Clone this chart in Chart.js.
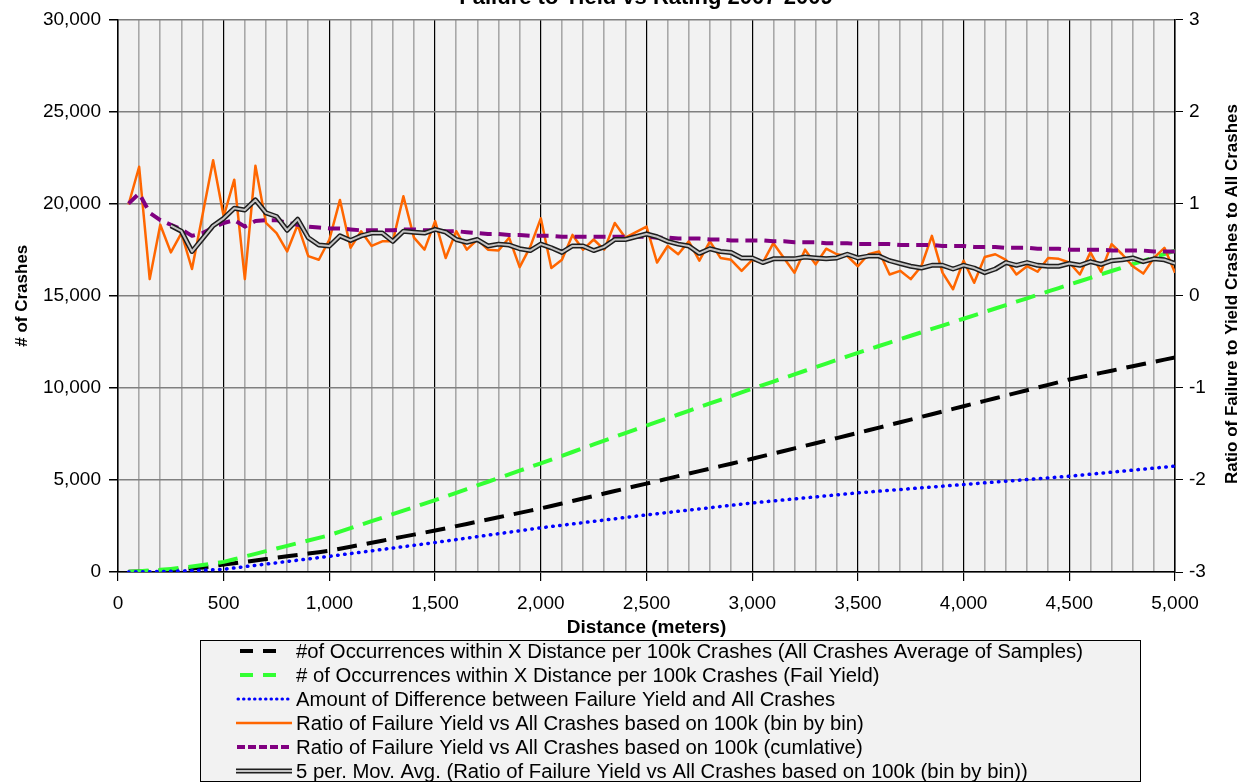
<!DOCTYPE html>
<html><head><meta charset="utf-8">
<script src="https://cdn.jsdelivr.net/npm/chart.js@4.4.0/dist/chart.umd.min.js"></script>
<style>html,body{margin:0;padding:0;background:#fff;overflow:hidden}#wrap{width:1247px;height:784px;position:relative}</style>
</head><body><div id="wrap"><canvas id="c" width="1247" height="784"></canvas></div>
<script>
const chartTitle = 'Failure to Yield vs Rating 2007-2009';
const xTitle = 'Distance (meters)';
const yLeftTitle = '# of Crashes';
const yRightTitle = 'Ratio of Failure to Yield Crashes to All Crashes';
const seriesNames = [
  '#of Occurrences within X Distance per 100k Crashes (All Crashes Average of Samples)',
  '# of Occurrences within X Distance per 100k Crashes (Fail Yield)',
  'Amount of Difference between Failure Yield and All Crashes',
  'Ratio of Failure Yield vs All Crashes based on 100k (bin by bin)',
  'Ratio of Failure Yield vs All Crashes based on 100k (cumlative)',
  '5 per. Mov. Avg. (Ratio of Failure Yield vs All Crashes based on 100k (bin by bin))'
];
const distances = [50,100,150,200,250,300,350,400,450,500,550,600,650,700,750,800,850,900,950,1000,
1050,1100,1150,1200,1250,1300,1350,1400,1450,1500,1550,1600,1650,1700,1750,1800,1850,1900,1950,2000,
2050,2100,2150,2200,2250,2300,2350,2400,2450,2500,2550,2600,2650,2700,2750,2800,2850,2900,2950,3000,
3050,3100,3150,3200,3250,3300,3350,3400,3450,3500,3550,3600,3650,3700,3750,3800,3850,3900,3950,4000,
4050,4100,4150,4200,4250,4300,4350,4400,4450,4500,4550,4600,4650,4700,4750,4800,4850,4900,4950,5000];
const xGridValues = [0,100,200,300,400,500,600,700,800,900,1000,1100,1200,1300,1400,1500,1600,1700,1800,1900,2000,
2100,2200,2300,2400,2500,2600,2700,2800,2900,3000,3100,3200,3300,3400,3500,3600,3700,3800,3900,4000,
4100,4200,4300,4400,4500,4600,4700,4800,4900,5000];
const xLabelValues = [0,500,1000,1500,2000,2500,3000,3500,4000,4500,5000];
const leftTicks = [0,5000,10000,15000,20000,25000,30000];
const rightTicks = [-3,-2,-1,0,1,2,3];

const allCrashesAvg = [10,25,45,70,100,140,190,250,320,400,
475,550,625,700,775,850,925,1000,1075,1150,
1260,1370,1480,1590,1700,1810,1920,2030,2140,2250,
2370,2490,2610,2730,2850,2970,3090,3210,3330,3450,
3585,3720,3855,3990,4125,4260,4395,4530,4665,4800,
4935,5070,5205,5340,5475,5610,5745,5880,6015,6150,
6290,6430,6570,6710,6850,6990,7130,7270,7410,7550,
7695,7840,7985,8130,8275,8420,8565,8710,8855,9000,
9145,9290,9435,9580,9725,9870,10015,10160,10305,10450,
10570,10690,10810,10930,11050,11170,11290,11410,11530,11650];
const failYield = [20,45,80,120,170,230,300,380,465,550,
695,840,985,1130,1275,1420,1565,1710,1855,2000,
2190,2380,2570,2760,2950,3140,3330,3520,3710,3900,
4100,4300,4500,4700,4900,5100,5300,5500,5700,5900,
6105,6310,6515,6720,6925,7130,7335,7540,7745,7950,
8150,8350,8550,8750,8950,9150,9350,9550,9750,9950,
10145,10340,10535,10730,10925,11120,11315,11510,11705,11900,
12085,12270,12455,12640,12825,13010,13195,13380,13565,13750,
13935,14120,14305,14490,14675,14860,15045,15230,15415,15600,
15785,15970,16155,16340,16525,16710,16895,17080,17265,17450];
const difference = [5,10,15,25,40,55,75,95,120,150,
220,290,360,430,500,570,640,710,780,850,
925,1000,1075,1150,1225,1300,1375,1450,1525,1600,
1680,1760,1840,1920,2000,2080,2160,2240,2320,2400,
2470,2540,2610,2680,2750,2820,2890,2960,3030,3100,
3165,3230,3295,3360,3425,3490,3555,3620,3685,3750,
3805,3860,3915,3970,4025,4080,4135,4190,4245,4300,
4345,4390,4435,4480,4525,4570,4615,4660,4705,4750,
4795,4840,4885,4930,4975,5020,5065,5110,5155,5200,
5255,5310,5365,5420,5475,5530,5585,5640,5695,5750];
const ratioBinByBin = [0.99,1.40,0.18,0.77,0.47,0.68,0.29,0.88,1.47,0.86,
1.26,0.18,1.41,0.79,0.68,0.48,0.77,0.43,0.39,0.61,
1.04,0.52,0.70,0.54,0.59,0.59,1.08,0.63,0.50,0.81,
0.41,0.70,0.50,0.61,0.50,0.49,0.63,0.31,0.53,0.84,
0.30,0.39,0.66,0.50,0.61,0.50,0.79,0.63,0.69,0.75,
0.36,0.54,0.45,0.59,0.38,0.59,0.41,0.39,0.27,0.39,
0.36,0.57,0.41,0.25,0.50,0.34,0.51,0.45,0.43,0.32,
0.45,0.48,0.23,0.27,0.18,0.32,0.65,0.25,0.07,0.38,
0.14,0.42,0.45,0.39,0.23,0.32,0.26,0.41,0.40,0.36,
0.23,0.47,0.26,0.56,0.45,0.32,0.24,0.41,0.52,0.25];
const ratioCumulative = [1.00,1.11,0.90,0.82,0.77,0.72,0.65,0.68,0.74,0.79,
0.82,0.75,0.81,0.82,0.82,0.79,0.77,0.75,0.74,0.73,
0.73,0.72,0.71,0.71,0.71,0.71,0.72,0.72,0.71,0.71,
0.70,0.70,0.69,0.68,0.67,0.67,0.66,0.66,0.65,0.65,
0.65,0.64,0.64,0.64,0.64,0.64,0.64,0.64,0.64,0.64,
0.63,0.63,0.62,0.62,0.62,0.61,0.61,0.60,0.60,0.60,
0.60,0.59,0.59,0.58,0.58,0.58,0.57,0.57,0.57,0.56,
0.56,0.56,0.56,0.55,0.55,0.55,0.55,0.54,0.54,0.54,
0.53,0.53,0.53,0.52,0.52,0.52,0.51,0.51,0.51,0.50,
0.50,0.50,0.50,0.49,0.49,0.49,0.49,0.48,0.48,0.48];
const movingAvg5 = [null,null,null,null,0.76,0.70,0.48,0.62,0.76,0.84,
0.95,0.93,1.04,0.90,0.86,0.71,0.83,0.63,0.55,0.54,
0.65,0.60,0.65,0.68,0.68,0.59,0.70,0.69,0.68,0.72,
0.69,0.61,0.58,0.61,0.54,0.56,0.55,0.51,0.49,0.56,
0.52,0.47,0.54,0.54,0.49,0.53,0.61,0.61,0.64,0.67,
0.64,0.59,0.56,0.54,0.46,0.51,0.48,0.47,0.41,0.41,
0.36,0.40,0.40,0.40,0.42,0.41,0.40,0.41,0.45,0.41,
0.43,0.43,0.38,0.35,0.32,0.30,0.33,0.33,0.29,0.33,
0.30,0.25,0.29,0.36,0.33,0.36,0.33,0.32,0.32,0.35,
0.33,0.37,0.34,0.38,0.39,0.41,0.37,0.40,0.39,0.35];

const FONT = '"Liberation Sans", Arial, sans-serif';
Chart.defaults.font.family = FONT;
Chart.defaults.color = '#000';

function pts(arr){ return distances.map((d,i)=>({x:d,y:arr[i]})); }

const styles = [
  {color:'#000000', width:4, dash:[20,10], cap:'butt'},
  {color:'#33ff33', width:4, dash:[20,10], cap:'butt'},
  {color:'#0000ff', width:3.5, dash:[0.5,6.5], cap:'round'},
  {color:'#ff6600', width:2.5, dash:[], cap:'butt'},
  {color:'#800080', width:4, dash:[12,7], cap:'butt'},
  {color:'#1e1e1e', width:5, dash:[], cap:'butt', inner:'#c4c4c4', innerWidth:2}
];

const datasets = [
  {label:seriesNames[0], data:pts(allCrashesAvg), yAxisID:'y', order:6},
  {label:seriesNames[1], data:pts(failYield), yAxisID:'y', order:5},
  {label:seriesNames[2], data:pts(difference), yAxisID:'y', order:4},
  {label:seriesNames[3], data:pts(ratioBinByBin), yAxisID:'y2', order:3},
  {label:seriesNames[4], data:pts(ratioCumulative), yAxisID:'y2', order:2},
  {label:seriesNames[5], data:pts(movingAvg5), yAxisID:'y2', order:1},
  {label:'', data:pts(movingAvg5), yAxisID:'y2', order:0}
].map((ds,k)=>{
  const s = styles[Math.min(k,5)];
  const inner = k===6;
  return Object.assign(ds,{
    borderColor: inner ? s.inner : s.color,
    borderWidth: inner ? s.innerWidth : s.width,
    borderDash: s.dash,
    borderCapStyle: s.cap,
    borderJoinStyle: 'round',
    pointRadius:0, pointHoverRadius:0, fill:false, tension:0, spanGaps:false
  });
});

const plotBg = {
  id:'plotBg',
  beforeDraw(chart){
    const {ctx, chartArea:a} = chart;
    ctx.save(); ctx.fillStyle='#f2f2f2'; ctx.fillRect(a.left,a.top,a.right-a.left,a.bottom-a.top); ctx.restore();
  }
};

const extras = {
  id:'extras',
  afterDraw(chart){
    const ctx = chart.ctx;
    ctx.save();
    // top title, cut off by the top edge as in the original
    ctx.font = 'bold 22px ' + FONT; ctx.fillStyle='#000'; ctx.textAlign='center'; ctx.textBaseline='alphabetic';
    ctx.fillText(chartTitle, 646, 4);
    // right axis title (reads bottom to top)
    ctx.save(); ctx.translate(1232, 294); ctx.rotate(-Math.PI/2);
    ctx.font = 'bold 17px ' + FONT; ctx.textAlign='center'; ctx.textBaseline='middle';
    ctx.fillText(yRightTitle, 0, 0); ctx.restore();
    // legend
    ctx.fillStyle='#f2f2f2'; ctx.fillRect(200,640,940,141);
    ctx.strokeStyle='#000'; ctx.lineWidth=1; ctx.setLineDash([]); ctx.strokeRect(200.5,640.5,940,141);
    ctx.font = '20px ' + FONT;
    const sx = 787 / ctx.measureText(seriesNames[0]).width;
    const legendDash = [[13,10],[13,10],[0.5,5],[],[8,3],[]];
    const legendX0 = [240,240,238,236,237,236];
    const legendX1 = [276,276,290,292,292,292];
    const legendW = [4,4,3,2.5,4,5];
    seriesNames.forEach((name,k)=>{
      const y = 651 + k*24;
      const s = styles[k];
      ctx.save();
      ctx.beginPath(); ctx.setLineDash(legendDash[k]); ctx.lineCap = s.cap;
      ctx.strokeStyle = s.color; ctx.lineWidth = legendW[k];
      ctx.moveTo(legendX0[k], y); ctx.lineTo(legendX1[k], y); ctx.stroke();
      if (s.inner){ ctx.beginPath(); ctx.strokeStyle=s.inner; ctx.lineWidth=2; ctx.moveTo(legendX0[k],y); ctx.lineTo(legendX1[k],y); ctx.stroke(); }
      ctx.restore();
      ctx.save(); ctx.translate(296, y); ctx.scale(sx,1);
      ctx.fillStyle='#000'; ctx.textAlign='left'; ctx.textBaseline='middle';
      ctx.fillText(name, 0, 1); ctx.restore();
    });
    ctx.restore();
  }
};

new Chart(document.getElementById('c'), {
  type:'line',
  data:{datasets},
  options:{
    responsive:false, animation:false,
    layout:{padding:{top:17,left:0,right:0,bottom:0}},
    plugins:{legend:{display:false}, tooltip:{enabled:false}, title:{display:false}},
    scales:{
      x:{
        type:'linear', min:0, max:5000,
        afterBuildTicks(s){ s.ticks = xGridValues.map(v=>({value:v})); },
        ticks:{autoSkip:false, maxRotation:0, minRotation:0, padding:11, font:{size:19}, color:'#000',
          callback:(v)=> xLabelValues.includes(v) ? v.toLocaleString('en-US') : ''},
        grid:{
          color:(c)=> (c.tick && xLabelValues.includes(c.tick.value)) ? '#000000' : '#a8a8a8',
          lineWidth:(c)=> (c.tick && xLabelValues.includes(c.tick.value)) ? 1.2 : 1.6,
          tickColor:(c)=> (c.tick && xLabelValues.includes(c.tick.value)) ? '#000000' : 'rgba(0,0,0,0)',
          tickLength:9
        },
        border:{color:'#000', width:1.5},
        title:{display:true, text:xTitle, font:{size:19, weight:'bold'}, color:'#000', padding:{top:0,bottom:145}},
        afterFit(s){ s.height = 212; }
      },
      y:{
        type:'linear', position:'left', min:0, max:30000,
        afterBuildTicks(s){ s.ticks = leftTicks.map(v=>({value:v})); },
        ticks:{padding:8, font:{size:19}, color:'#000', callback:(v)=> v.toLocaleString('en-US')},
        grid:{color:'#808080', lineWidth:1.5, tickColor:'#000', tickLength:9},
        border:{color:'#000', width:1.5},
        title:{display:true, text:yLeftTitle, font:{size:17, weight:'bold'}, color:'#000', padding:{top:12}},
        afterFit(s){ s.width = 118; }
      },
      y2:{
        type:'linear', position:'right', min:-3, max:3,
        afterBuildTicks(s){ s.ticks = rightTicks.map(v=>({value:v})); },
        ticks:{padding:6, font:{size:19}, color:'#000'},
        grid:{drawOnChartArea:false, tickColor:'#000', tickLength:8},
        border:{color:'#000', width:1.5},
        afterFit(s){ s.width = 72; }
      }
    }
  },
  plugins:[plotBg, extras]
});
</script></body></html>
